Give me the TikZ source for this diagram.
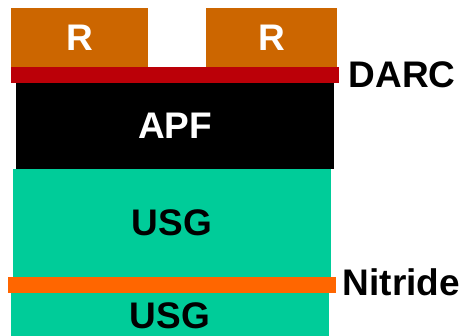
\documentclass[tikz,border=0pt]{standalone}
\usepackage{fontspec}
\setmainfont{Liberation Sans}
\definecolor{resistc}{HTML}{CC6600}
\definecolor{darcc}{HTML}{BB0008}
\definecolor{usgc}{HTML}{00CC99}
\definecolor{nitc}{HTML}{FF6600}
\tikzset{
  layer/.style={draw=none, inner sep=0pt, outer sep=0pt, anchor=north west,
    font=\fontsize{37}{37}\selectfont\bfseries, align=center},
  sidelabel/.style={inner sep=0pt, anchor=base west, text=black,
    font=\fontsize{37}{37}\selectfont\bfseries}
}
\begin{document}
\begin{tikzpicture}[x=1pt,y=-1pt]
\useasboundingbox (0,0) rectangle (464,336);
% resist blocks
\node[layer, fill=resistc, text=white, minimum width=137pt, minimum height=59pt] (r1) at (11,8) {R};
\node[layer, fill=resistc, text=white, minimum width=131pt, minimum height=59pt] (r2) at (206,8) {R};
% DARC
\node[layer, fill=darcc, minimum width=328pt, minimum height=16pt] (darc) at (11,67) {};
% APF
\node[layer, fill=black, text=white, minimum width=318pt, minimum height=86pt] (apf) at (16,83) {APF};
% USG top
\node[layer, fill=usgc, text=black, minimum width=318pt, minimum height=108pt] (usg1) at (13,169) {USG};
% USG bottom
\node[layer, fill=usgc, text=black, minimum width=318pt, minimum height=45pt] (usg2) at (11,293) {};
\node[inner sep=0pt, text=black, font=\fontsize{37}{37}\selectfont\bfseries] (usg2t) at (170,315.5) {USG};
% Nitride
\node[layer, fill=nitc, minimum width=328pt, minimum height=16pt] (nit) at (8,277) {};
% side labels
\node[sidelabel] (darcl) at (348.5,88) {DARC};
\node[sidelabel] (nitl) at (342.5,296) {Nitride};
\end{tikzpicture}
\end{document}
